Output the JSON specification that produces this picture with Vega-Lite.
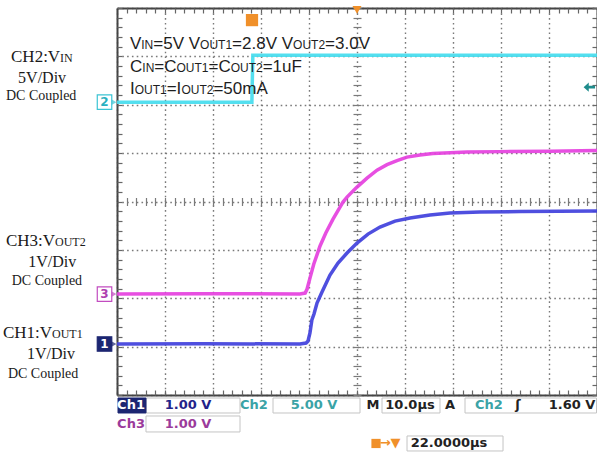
{
  "$schema": "https://vega.github.io/schema/vega-lite/v6.json",
  "width": 480,
  "height": 387,
  "autosize": {"type": "none"},
  "padding": {"left": 117, "top": 8, "right": 0, "bottom": 59},
  "background": "white",
  "config": {
    "view": {"stroke": null}
  },
  "datasets": {
    "traces": [
      {"ch": "CH2", "t": -28, "v": 6.054}, {"ch": "CH2", "t": 0.1, "v": 6.054}, {"ch": "CH2", "t": 0.3, "v": 7.025}, {"ch": "CH2", "t": 72, "v": 7.025},
      {"ch": "CH3", "t": -28, "v": 2.087}, {"ch": "CH3", "t": -10, "v": 2.095}, {"ch": "CH3", "t": 10.1, "v": 2.087}, {"ch": "CH3", "t": 11.2, "v": 2.107},
      {"ch": "CH3", "t": 11.6, "v": 2.19}, {"ch": "CH3", "t": 12.2, "v": 2.417}, {"ch": "CH3", "t": 13.0, "v": 2.707}, {"ch": "CH3", "t": 14.3, "v": 3.08},
      {"ch": "CH3", "t": 15.5, "v": 3.35}, {"ch": "CH3", "t": 17.0, "v": 3.636}, {"ch": "CH3", "t": 18.46, "v": 3.884}, {"ch": "CH3", "t": 19.08, "v": 3.988},
      {"ch": "CH3", "t": 19.92, "v": 4.091}, {"ch": "CH3", "t": 22.0, "v": 4.298}, {"ch": "CH3", "t": 24.08, "v": 4.483}, {"ch": "CH3", "t": 26.17, "v": 4.649},
      {"ch": "CH3", "t": 28.25, "v": 4.762}, {"ch": "CH3", "t": 30.33, "v": 4.845}, {"ch": "CH3", "t": 32.42, "v": 4.917}, {"ch": "CH3", "t": 35.1, "v": 4.959},
      {"ch": "CH3", "t": 37.8, "v": 4.99}, {"ch": "CH3", "t": 41.4, "v": 5.01}, {"ch": "CH3", "t": 44.9, "v": 5.021}, {"ch": "CH3", "t": 51.8, "v": 5.031},
      {"ch": "CH3", "t": 62.2, "v": 5.041}, {"ch": "CH3", "t": 72, "v": 5.052},
      {"ch": "CH1", "t": -28, "v": 1.054}, {"ch": "CH1", "t": -10, "v": 1.06}, {"ch": "CH1", "t": 10.1, "v": 1.054}, {"ch": "CH1", "t": 11.4, "v": 1.074},
      {"ch": "CH1", "t": 11.8, "v": 1.116}, {"ch": "CH1", "t": 12.2, "v": 1.281}, {"ch": "CH1", "t": 12.6, "v": 1.55}, {"ch": "CH1", "t": 13.04, "v": 1.674},
      {"ch": "CH1", "t": 13.67, "v": 1.901}, {"ch": "CH1", "t": 14.71, "v": 2.128}, {"ch": "CH1", "t": 16.375, "v": 2.479}, {"ch": "CH1", "t": 18.04, "v": 2.727},
      {"ch": "CH1", "t": 19.92, "v": 2.934}, {"ch": "CH1", "t": 22.0, "v": 3.14}, {"ch": "CH1", "t": 24.29, "v": 3.326}, {"ch": "CH1", "t": 26.79, "v": 3.471},
      {"ch": "CH1", "t": 29.92, "v": 3.595}, {"ch": "CH1", "t": 33.04, "v": 3.657}, {"ch": "CH1", "t": 37.21, "v": 3.719}, {"ch": "CH1", "t": 41.375, "v": 3.76},
      {"ch": "CH1", "t": 47.625, "v": 3.781}, {"ch": "CH1", "t": 55.96, "v": 3.791}, {"ch": "CH1", "t": 72, "v": 3.802}
    ],
    "boxes": [
      {"kind": "box", "x1": -21.96, "x2": -2.375, "y1": -0.062, "y2": -0.372},
      {"kind": "sel", "x1": -27.79, "x2": -21.96, "y1": -0.062, "y2": -0.372},
      {"kind": "box", "x1": 4.5, "x2": 22.625, "y1": -0.062, "y2": -0.372},
      {"kind": "box", "x1": 27.21, "x2": 39.29, "y1": -0.062, "y2": -0.372},
      {"kind": "box", "x1": 44.5, "x2": 71.9, "y1": -0.062, "y2": -0.372},
      {"kind": "box", "x1": -21.96, "x2": -2.375, "y1": -0.434, "y2": -0.764},
      {"kind": "box", "x1": 32.42, "x2": 52.42, "y1": -0.847, "y2": -1.157}
    ],
    "status": [
      {"s": "Ch1", "t": -25.08, "v": -0.217, "c": "sel"},
      {"s": "1.00 V", "t": -13.21, "v": -0.217, "c": "ch1"},
      {"s": "Ch2", "t": 0.54, "v": -0.217, "c": "ch2"},
      {"s": "5.00 V", "t": 13.04, "v": -0.217, "c": "ch2"},
      {"s": "M", "t": 25.33, "v": -0.217, "c": "gen"},
      {"s": "10.0µs", "t": 33.04, "v": -0.217, "c": "gen"},
      {"s": "A", "t": 41.375, "v": -0.217, "c": "gen"},
      {"s": "Ch2", "t": 49.5, "v": -0.217, "c": "ch2"},
      {"s": "ʃ", "t": 55.54, "v": -0.217, "c": "gen"},
      {"s": "1.60 V", "t": 66.79, "v": -0.217, "c": "gen"},
      {"s": "Ch3", "t": -25.08, "v": -0.599, "c": "ch3"},
      {"s": "1.00 V", "t": -13.21, "v": -0.599, "c": "ch3"},
      {"s": "22.0000µs", "t": 41.17, "v": -1.002, "c": "gen"},
      {"s": "→▼", "t": 28.9, "v": -1.002, "c": "org"}
    ],
    "leftp": [
      {"s": "CH2:V", "t": -50.08, "v": 6.88, "sz": "big"},
      {"s": "IN", "t": -39.875, "v": 6.88, "sz": "small"},
      {"s": "CH3:V", "t": -51.125, "v": 3.079, "sz": "big"},
      {"s": "OUT2", "t": -40.92, "v": 3.079, "sz": "small"},
      {"s": "CH1:V", "t": -51.75, "v": 1.178, "sz": "big"},
      {"s": "OUT1", "t": -41.54, "v": 1.178, "sz": "small"}
    ],
    "leftc": [
      {"s": "5V/Div", "t": -43.6, "v": 6.446, "sz": "mid"},
      {"s": "DC Coupled", "t": -43.8, "v": 6.095, "sz": "sm"},
      {"s": "1V/Div", "t": -41.5, "v": 2.645, "sz": "mid"},
      {"s": "DC Coupled", "t": -42.6, "v": 2.273, "sz": "sm"},
      {"s": "1V/Div", "t": -41.75, "v": 0.744, "sz": "mid"},
      {"s": "DC Coupled", "t": -43.4, "v": 0.351, "sz": "sm"}
    ],
    "notes": [
      {"s": "V", "t": -25.29, "v": 7.149, "sz": "big"},
      {"s": "IN", "t": -22.94, "v": 7.149, "sz": "small"},
      {"s": "=5V V", "t": -20.44, "v": 7.149, "sz": "big"},
      {"s": "OUT1", "t": -10.69, "v": 7.149, "sz": "small"},
      {"s": "=2.8V V", "t": -4.02, "v": 7.149, "sz": "big"},
      {"s": "OUT2", "t": 8.69, "v": 7.149, "sz": "small"},
      {"s": "=3.0V", "t": 15.35, "v": 7.149, "sz": "big"},
      {"s": "C", "t": -25.29, "v": 6.684, "sz": "big"},
      {"s": "IN", "t": -22.73, "v": 6.684, "sz": "small"},
      {"s": "=C", "t": -20.23, "v": 6.684, "sz": "big"},
      {"s": "OUT1", "t": -15.6, "v": 6.684, "sz": "small"},
      {"s": "=C", "t": -8.94, "v": 6.684, "sz": "big"},
      {"s": "OUT2", "t": -4.31, "v": 6.684, "sz": "small"},
      {"s": "=1uF", "t": 2.35, "v": 6.684, "sz": "big"},
      {"s": "I", "t": -25.29, "v": 6.219, "sz": "big"},
      {"s": "OUT1", "t": -24.31, "v": 6.219, "sz": "small"},
      {"s": "=I", "t": -17.65, "v": 6.219, "sz": "big"},
      {"s": "OUT2", "t": -14.58, "v": 6.219, "sz": "small"},
      {"s": "=50mA", "t": -7.92, "v": 6.219, "sz": "big"}
    ],
    "markers": [
      {"ch": "CH2", "lbl": "2", "t": -30.6, "v": 6.054},
      {"ch": "CH3", "lbl": "3", "t": -30.6, "v": 2.087},
      {"ch": "CH1", "lbl": "1", "t": -30.6, "v": 1.054}
    ],
    "symbols": [
      {"k": "T", "t": 0.125, "v": 7.75},
      {"k": "tri", "t": 22, "v": 7.96},
      {"k": "arrow", "t": 70.4, "v": 6.364},
      {"k": "T2", "t": 25.96, "v": -1.002}
    ]
  },
  "layer": [
    {
      "data": {"name": "traces"},
      "mark": {"type": "line", "strokeWidth": 3.5, "opacity": 0.92},
      "encoding": {
        "x": {"field": "t", "type": "quantitative", "scale": {"domain": [-28, 72], "nice": false, "zero": false},
          "axis": {"orient": "bottom", "grid": true, "gridColor": "#7a7a7a", "gridOpacity": 1, "gridDash": [1.6, 3.2], "gridWidth": 1.4, "values": [-28, -18, -8, 2, 12, 22, 32, 42, 52, 62, 72], "ticks": false, "labels": false, "title": null, "domain": true, "domainColor": "#444", "domainWidth": 2}},
        "y": {"field": "v", "type": "quantitative", "scale": {"domain": [0, 8], "nice": false, "zero": false},
          "axis": {"orient": "left", "grid": true, "gridColor": "#7a7a7a", "gridOpacity": 1, "gridDash": [1.6, 3.2], "gridWidth": 1.4, "values": [0, 1, 2, 3, 4, 5, 6, 7, 8], "ticks": false, "labels": false, "title": null, "domain": true, "domainColor": "#444", "domainWidth": 2}},
        "color": {"field": "ch", "type": "nominal", "scale": {"domain": ["CH1", "CH2", "CH3"], "range": ["#4040dc", "#45dcee", "#e540de"]}, "legend": null}
      }
    },
    {
      "data": {"name": "boxes"},
      "mark": {"type": "rect", "strokeWidth": 1},
      "encoding": {
        "x": {"field": "x1", "type": "quantitative", "scale": {"domain": [-28, 72], "nice": false, "zero": false},
          "axis": {"orient": "bottom", "offset": -197.5, "grid": false, "labels": false, "title": null, "domain": false, "ticks": true, "tickSize": 8, "tickWidth": 1.2, "tickColor": "#7a7a7a",
            "values": [-28,-26,-24,-22,-20,-18,-16,-14,-12,-10,-8,-6,-4,-2,0,2,4,6,8,10,12,14,16,18,20,22,24,26,28,30,32,34,36,38,40,42,44,46,48,50,52,54,56,58,60,62,64,66,68,70,72]}},
        "x2": {"field": "x2"},
        "y": {"field": "y1", "type": "quantitative", "scale": {"domain": [0, 8], "nice": false, "zero": false},
          "axis": {"orient": "left", "offset": -244, "grid": false, "labels": false, "title": null, "domain": false, "ticks": true, "tickSize": 8, "tickWidth": 1.2, "tickColor": "#7a7a7a",
            "values": [0,0.2,0.4,0.6,0.8,1,1.2,1.4,1.6,1.8,2,2.2,2.4,2.6,2.8,3,3.2,3.4,3.6,3.8,4,4.2,4.4,4.6,4.8,5,5.2,5.4,5.6,5.8,6,6.2,6.4,6.6,6.8,7,7.2,7.4,7.6,7.8,8]}},
        "y2": {"field": "y2"},
        "fill": {"field": "kind", "type": "nominal", "scale": {"domain": ["sel", "box"], "range": ["#1c2672", "#ffffff"]}, "legend": null},
        "stroke": {"field": "kind", "type": "nominal", "scale": {"domain": ["sel", "box"], "range": ["#1c2672", "#c4c4c4"]}, "legend": null}
      }
    },
    {
      "data": {"name": "status"},
      "mark": {"type": "text", "font": "DejaVu Sans", "fontSize": 13, "fontWeight": "bold", "align": "center", "baseline": "middle"},
      "encoding": {
        "x": {"field": "t", "type": "quantitative", "scale": {"domain": [-28, 72], "nice": false, "zero": false},
          "axis": {"orient": "top", "grid": false, "ticks": false, "labels": false, "title": null, "domain": true, "domainColor": "#444", "domainWidth": 2}},
        "y": {"field": "v", "type": "quantitative", "scale": {"domain": [0, 8], "nice": false, "zero": false},
          "axis": {"orient": "right", "grid": false, "ticks": false, "labels": false, "title": null, "domain": true, "domainColor": "#444", "domainWidth": 2}},
        "text": {"field": "s"},
        "color": {"field": "c", "type": "nominal", "scale": {"domain": ["sel", "ch1", "ch2", "ch3", "gen", "org"], "range": ["#ffffff", "#23238a", "#3aa3a6", "#9b3b9b", "#222222", "#f0902a"]}, "legend": null}
      }
    },
    {
      "data": {"name": "leftp"},
      "mark": {"type": "text", "font": "Liberation Serif", "align": "left", "baseline": "alphabetic", "color": "#1a1a1a"},
      "encoding": {
        "x": {"field": "t", "type": "quantitative", "scale": {"domain": [-28, 72], "nice": false, "zero": false},
          "axis": {"orient": "bottom", "offset": -5, "grid": false, "labels": false, "title": null, "domain": false, "ticks": true, "tickSize": 5, "tickWidth": 1.2, "tickColor": "#666",
            "values": [-28,-26,-24,-22,-20,-18,-16,-14,-12,-10,-8,-6,-4,-2,0,2,4,6,8,10,12,14,16,18,20,22,24,26,28,30,32,34,36,38,40,42,44,46,48,50,52,54,56,58,60,62,64,66,68,70,72]}},
        "y": {"field": "v", "type": "quantitative", "scale": {"domain": [0, 8], "nice": false, "zero": false},
          "axis": {"orient": "left", "offset": -5, "grid": false, "labels": false, "title": null, "domain": false, "ticks": true, "tickSize": 5, "tickWidth": 1.2, "tickColor": "#666",
            "values": [0,0.2,0.4,0.6,0.8,1,1.2,1.4,1.6,1.8,2,2.2,2.4,2.6,2.8,3,3.2,3.4,3.6,3.8,4,4.2,4.4,4.6,4.8,5,5.2,5.4,5.6,5.8,6,6.2,6.4,6.6,6.8,7,7.2,7.4,7.6,7.8,8]}},
        "text": {"field": "s"},
        "size": {"field": "sz", "type": "nominal", "scale": {"type": "ordinal", "domain": ["big", "small"], "range": [17, 12]}, "legend": null}
      }
    },
    {
      "data": {"name": "leftc"},
      "mark": {"type": "text", "font": "Liberation Serif", "align": "center", "baseline": "alphabetic", "color": "#1a1a1a"},
      "encoding": {
        "x": {"field": "t", "type": "quantitative", "scale": {"domain": [-28, 72], "nice": false, "zero": false},
          "axis": {"orient": "top", "offset": -5, "grid": false, "labels": false, "title": null, "domain": false, "ticks": true, "tickSize": 5, "tickWidth": 1.2, "tickColor": "#666",
            "values": [-28,-26,-24,-22,-20,-18,-16,-14,-12,-10,-8,-6,-4,-2,0,2,4,6,8,10,12,14,16,18,20,22,24,26,28,30,32,34,36,38,40,42,44,46,48,50,52,54,56,58,60,62,64,66,68,70,72]}},
        "y": {"field": "v", "type": "quantitative", "scale": {"domain": [0, 8], "nice": false, "zero": false},
          "axis": {"orient": "right", "offset": -5, "grid": false, "labels": false, "title": null, "domain": false, "ticks": true, "tickSize": 5, "tickWidth": 1.2, "tickColor": "#666",
            "values": [0,0.2,0.4,0.6,0.8,1,1.2,1.4,1.6,1.8,2,2.2,2.4,2.6,2.8,3,3.2,3.4,3.6,3.8,4,4.2,4.4,4.6,4.8,5,5.2,5.4,5.6,5.8,6,6.2,6.4,6.6,6.8,7,7.2,7.4,7.6,7.8,8]}},
        "text": {"field": "s"},
        "size": {"field": "sz", "type": "nominal", "scale": {"type": "ordinal", "domain": ["mid", "sm"], "range": [16, 14]}, "legend": null}
      }
    },
    {
      "data": {"name": "notes"},
      "mark": {"type": "text", "font": "Liberation Sans", "align": "left", "baseline": "alphabetic", "color": "#1e1e1e"},
      "encoding": {
        "x": {"field": "t", "type": "quantitative", "scale": {"domain": [-28, 72], "nice": false, "zero": false}, "axis": null},
        "y": {"field": "v", "type": "quantitative", "scale": {"domain": [0, 8], "nice": false, "zero": false}, "axis": null},
        "text": {"field": "s"},
        "size": {"field": "sz", "type": "nominal", "scale": {"type": "ordinal", "domain": ["big", "small"], "range": [17, 12]}, "legend": null}
      }
    },
    {
      "data": {"name": "markers"},
      "mark": {"type": "point", "shape": "triangle-right", "filled": true, "size": 45, "xOffset": 9},
      "encoding": {
        "x": {"field": "t", "type": "quantitative", "scale": {"domain": [-28, 72], "nice": false, "zero": false}, "axis": null},
        "y": {"field": "v", "type": "quantitative", "scale": {"domain": [0, 8], "nice": false, "zero": false}, "axis": null},
        "color": {"field": "ch", "type": "nominal", "scale": {"domain": ["CH1", "CH2", "CH3"], "range": ["#1c2672", "#3cc4d4", "#c24cc0"]}, "legend": null}
      }
    },
    {
      "data": {"name": "markers"},
      "mark": {"type": "point", "shape": "square", "filled": true, "size": 210, "strokeWidth": 1.2, "opacity": 1},
      "encoding": {
        "x": {"field": "t", "type": "quantitative", "scale": {"domain": [-28, 72], "nice": false, "zero": false}, "axis": null},
        "y": {"field": "v", "type": "quantitative", "scale": {"domain": [0, 8], "nice": false, "zero": false}, "axis": null},
        "fill": {"field": "ch", "type": "nominal", "scale": {"domain": ["CH1", "CH2", "CH3"], "range": ["#1c2672", "#ffffff", "#ffffff"]}, "legend": null},
        "stroke": {"field": "ch", "type": "nominal", "scale": {"domain": ["CH1", "CH2", "CH3"], "range": ["#1c2672", "#3cc4d4", "#c24cc0"]}, "legend": null}
      }
    },
    {
      "data": {"name": "markers"},
      "mark": {"type": "text", "font": "DejaVu Sans", "fontSize": 12, "fontWeight": "bold", "align": "center", "baseline": "middle"},
      "encoding": {
        "x": {"field": "t", "type": "quantitative", "scale": {"domain": [-28, 72], "nice": false, "zero": false}, "axis": null},
        "y": {"field": "v", "type": "quantitative", "scale": {"domain": [0, 8], "nice": false, "zero": false}, "axis": null},
        "text": {"field": "lbl"},
        "color": {"field": "ch", "type": "nominal", "scale": {"domain": ["CH1", "CH2", "CH3"], "range": ["#ffffff", "#2ab0c0", "#b040b0"]}, "legend": null}
      }
    },
    {
      "data": {"name": "symbols"},
      "mark": {"type": "point", "filled": true, "opacity": 1},
      "encoding": {
        "x": {"field": "t", "type": "quantitative", "scale": {"domain": [-28, 72], "nice": false, "zero": false}, "axis": null},
        "y": {"field": "v", "type": "quantitative", "scale": {"domain": [0, 8], "nice": false, "zero": false}, "axis": null},
        "shape": {"field": "k", "type": "nominal", "scale": {"domain": ["T", "tri", "arrow", "T2"], "range": ["square", "triangle-down", "M -1 0 L -0.1 -0.8 L -0.1 0.8 Z M -0.1 -0.25 L 1 -0.25 L 1 0.25 L -0.1 0.25 Z", "square"]}, "legend": null},
        "size": {"field": "k", "type": "nominal", "scale": {"type": "ordinal", "domain": ["T", "tri", "arrow", "T2"], "range": [150, 80, 130, 85]}, "legend": null},
        "color": {"field": "k", "type": "nominal", "scale": {"domain": ["T", "tri", "arrow", "T2"], "range": ["#f0902a", "#f0902a", "#1e8c8c", "#f0902a"]}, "legend": null}
      }
    }
  ],
  "resolve": {
    "scale": {"color": "independent", "fill": "independent", "stroke": "independent", "size": "independent", "shape": "independent"},
    "axis": {"x": "independent", "y": "independent"}
  }
}
